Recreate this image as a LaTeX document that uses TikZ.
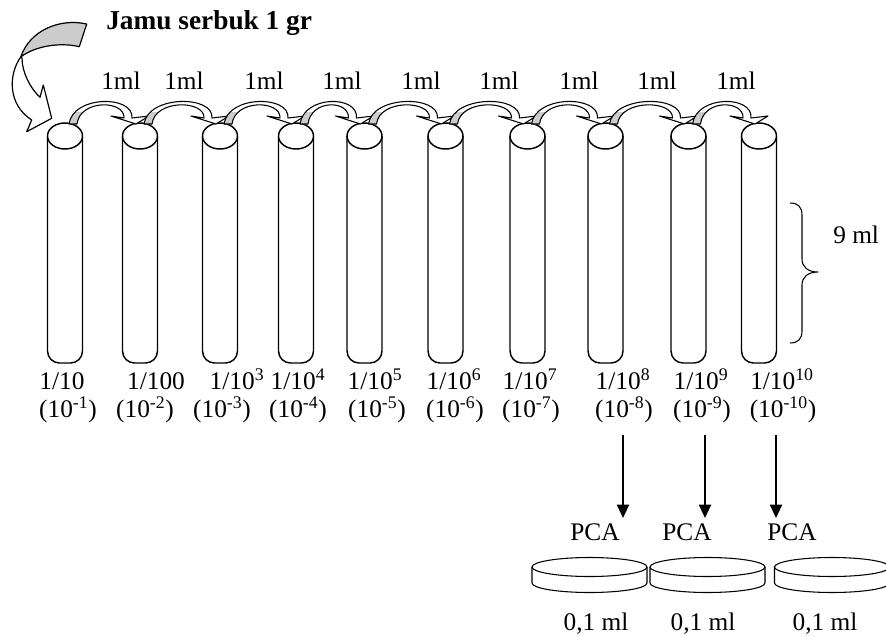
\documentclass[tikz,border=0pt]{standalone}
\usepackage{fontspec}
\setmainfont{Liberation Serif}
\usetikzlibrary{arrows.meta,calc}

% Ribbon-shaped transfer arrow from the top of tube #1 into tube #2
\newcommand\bandpath[2]{($(#1)+(4,-12)$) .. controls ($(#1)+(8,-41)$) and ($(#2)+(-6,-41)$) .. ($(#2)+(-8,-18)$)
  -- ($(#2)+(9,-20)$) -- ($(#2)+(-4,-12)$) -- ($(#2)+(-29,-20)$) -- ($(#2)+(-16,-18)$)
  .. controls ($(#2)+(-15,-36)$) and ($(#1)+(15,-37)$) .. ($(#1)+(12,-12)$) -- cycle}

\begin{document}
\begin{tikzpicture}[x=0.75pt,y=-0.75pt,
  txt/.style={inner sep=0pt,anchor=base,font=\fontsize{19}{21}\selectfont},
  titletxt/.style={inner sep=0pt,anchor=base west,font=\fontsize{20.5}{23}\selectfont\bfseries},
  tubeline/.style={draw,line width=1.1pt,fill=white},
  ribbon/.style={draw,line width=0.8pt,fill=white,line join=round},
  underside/.style={fill=gray!40},
  platedraw/.style={draw,line width=0.8pt,fill=white},
  droparrow/.style={line width=1.5pt,-{Triangle[length=10pt,width=9pt]}},
  bracedraw/.style={draw,line width=0.8pt}
]
\useasboundingbox (0,0) rectangle (886,636);

% sample arrow
\fill[underside] (86.7,24) .. controls (60,18) and (30,30) .. (20.7,57)
  .. controls (35,46) and (60,42) .. (79.3,46.7) -- cycle;
\draw[line width=0.9pt,line join=round] (86.7,24) .. controls (60,18) and (30,30) .. (20.7,57)
  .. controls (35,46) and (60,42) .. (79.3,46.7) -- cycle;
\draw[line width=0.9pt,fill=white,line join=round] (20.7,57) .. controls (8,75) and (8,105) .. (31.7,120)
  -- (26.7,131.7) -- (51.7,118.3) -- (43.3,85) -- (40,97.3)
  .. controls (30,88) and (22,72) .. (22,58) -- cycle;

\node[titletxt] (title) at (106,29) {Jamu serbuk 1 gr};

% test tubes
\foreach \i/\c in {1/65,2/140,3/220,4/296,5/364.5,6/445.5,7/527.5,8/605.5,9/688.5,10/759}{
  \coordinate (t\i) at (\c,136);
  \draw[tubeline,rounded corners=9pt] (\c-17.5,136) -- (\c-17.5,363) -- (\c+17.5,363) -- (\c+17.5,136);
  \draw[tubeline] (t\i) ellipse [x radius=13.125pt, y radius=9.75pt];
}

% transfer arrows between tubes
\foreach \i/\j in {1/2,2/3,3/4,4/5,5/6,6/7,7/8,8/9,9/10}{
  \fill[white] \bandpath{t\i}{t\j};
  \begin{scope}
    \clip ($(t\i)+(0,-24)$) rectangle ($(t\i)+(22,-11)$);
    \fill[underside] \bandpath{t\i}{t\j};
  \end{scope}
  \draw[ribbon,fill=none] \bandpath{t\i}{t\j};
}

% transferred volumes
\foreach \i/\x in {1/121,2/184,3/264,4/342,5/421,6/499,7/579,8/657,9/736}
  \node[txt] (m\i) at (\x,89) {1ml};

% dilution factors
\node[txt] (d1) at (62,389) {1/10};
\node[txt] (d2) at (156,389) {1/100};
\node[txt] (d3) at (237,389) {1/10\textsuperscript{3}};
\node[txt] (d4) at (298,389) {1/10\textsuperscript{4}};
\node[txt] (d5) at (375,389) {1/10\textsuperscript{5}};
\node[txt] (d6) at (454,389) {1/10\textsuperscript{6}};
\node[txt] (d7) at (530,389) {1/10\textsuperscript{7}};
\node[txt] (d8) at (623,389) {1/10\textsuperscript{8}};
\node[txt] (d9) at (701,389) {1/10\textsuperscript{9}};
\node[txt] (d10) at (782,389) {1/10\textsuperscript{10}};

\foreach \i/\x in {1/68,2/145,3/222,4/298,5/377,6/455,7/531,8/624,9/702,10/783}
  \node[txt] (e\i) at (\x,417) {(10\textsuperscript{-\i})};

% 9 ml brace
\draw[bracedraw] (790,203) .. controls (798,203) and (802,207) .. (802,215) -- (802,259)
  .. controls (802,267) and (808,272) .. (818,272)
  .. controls (808,272) and (802,277) .. (802,285) -- (802,331)
  .. controls (802,339) and (798,343) .. (790,343);
\node[txt,anchor=base west] (vol) at (833,243) {9 ml};

% plating
\foreach \k/\x in {1/623,2/705,3/776}{
  \coordinate (s\k) at (\x,435);
  \coordinate (f\k) at (\x,518);
  \draw[droparrow] (s\k) -- (f\k);
}
\node[txt] (p1) at (595,540) {PCA};
\node[txt] (p2) at (687,540) {PCA};
\node[txt] (p3) at (792,540) {PCA};

\foreach \k/\c in {1/589.5,2/707.5,3/832}{
  \draw[platedraw] (\c-57.5,567) -- (\c-57.5,583) arc[start angle=180,end angle=360,x radius=43.125pt,y radius=7.125pt] -- (\c+57.5,567);
  \draw[platedraw] (\c,567) ellipse [x radius=43.125pt, y radius=7.125pt];
}
\node[txt] (v1) at (596,630) {0,1 ml};
\node[txt] (v2) at (703,630) {0,1 ml};
\node[txt] (v3) at (825,630) {0,1 ml};
\end{tikzpicture}
\end{document}
